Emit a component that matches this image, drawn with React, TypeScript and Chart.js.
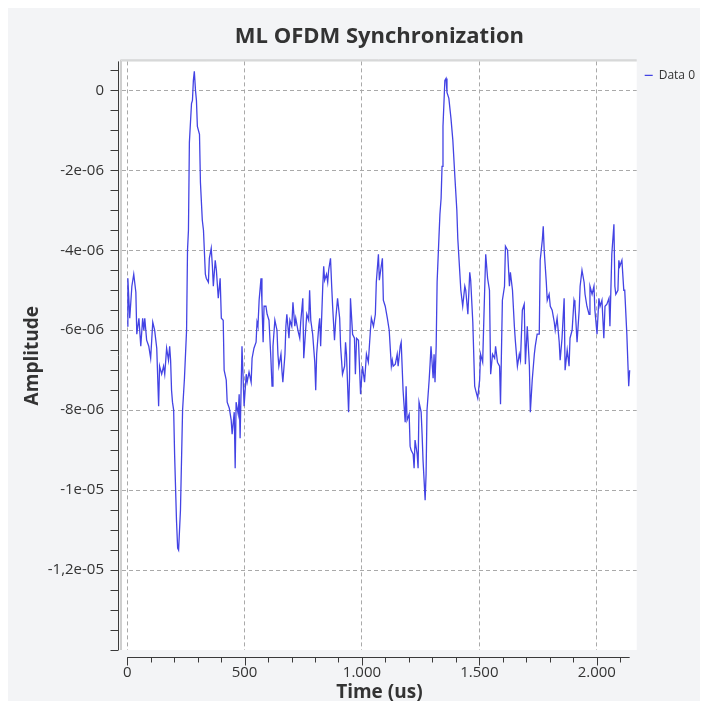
import React, { useEffect, useRef } from "react";
import { Chart, registerables } from "chart.js";

Chart.register(...registerables);

// Time axis (microseconds)
const timeUs = [
  0, 3, 11, 20, 28, 37, 41, 50, 58, 66, 71, 75, 83, 92, 100, 105, 109, 117, 126, 134,
  138, 147, 155, 160, 168, 176, 181, 185, 189, 193, 198, 202, 210, 215, 219, 227, 236, 244, 253, 257,
  261, 265, 274, 278, 282, 286, 291, 295, 299, 308, 312, 320, 325, 333, 337, 346, 350, 358, 363, 367,
  375, 380, 388, 396, 401, 409, 413, 422, 426, 435, 443, 447, 456, 460, 464, 473, 477, 481, 489, 498,
  507, 511, 519, 528, 532, 540, 549, 553, 557, 562, 570, 574, 579, 583, 591, 596, 604, 612, 617, 621,
  629, 638, 642, 646, 655, 659, 663, 672, 676, 680, 689, 693, 701, 706, 714, 718, 727, 735, 739, 748,
  752, 760, 765, 773, 777, 782, 790, 799, 803, 807, 816, 820, 824, 833, 837, 841, 849, 854, 858, 866,
  871, 875, 883, 888, 896, 905, 909, 917, 926, 930, 934, 943, 947, 951, 960, 968, 972, 977, 985, 994,
  1002, 1011, 1019, 1027, 1036, 1040, 1049, 1057, 1061, 1070, 1074, 1082, 1087, 1091, 1099, 1108, 1116, 1125, 1129, 1133,
  1142, 1150, 1154, 1163, 1167, 1171, 1175, 1184, 1188, 1192, 1201, 1205, 1209, 1218, 1222, 1226, 1235, 1239, 1243, 1252,
  1256, 1260, 1269, 1273, 1277, 1286, 1290, 1294, 1303, 1307, 1311, 1316, 1320, 1328, 1332, 1337, 1341, 1345, 1353, 1358,
  1362, 1370, 1379, 1387, 1396, 1404, 1408, 1413, 1421, 1429, 1438, 1442, 1451, 1459, 1463, 1472, 1480, 1484, 1493, 1501,
  1505, 1514, 1522, 1527, 1535, 1543, 1548, 1556, 1565, 1569, 1577, 1586, 1590, 1598, 1607, 1611, 1620, 1628, 1632, 1641,
  1649, 1653, 1662, 1670, 1675, 1683, 1691, 1696, 1704, 1713, 1717, 1725, 1734, 1738, 1746, 1755, 1759, 1768, 1772, 1776,
  1785, 1789, 1797, 1802, 1810, 1819, 1823, 1831, 1840, 1844, 1852, 1861, 1865, 1874, 1882, 1886, 1895, 1903, 1907, 1916,
  1925, 1929, 1937, 1946, 1950, 1958, 1967, 1971, 1980, 1988, 1992, 2001, 2009, 2014, 2022, 2030, 2035, 2043, 2052, 2056,
  2064, 2073, 2077, 2081, 2090, 2094, 2098, 2107, 2115, 2119, 2128, 2136, 2140,
];

// Amplitude, in units of 1e-6
const amplitudeE6 = [
  -5.9, -4.7, -5.7, -4.9, -4.6, -5.05, -6.1, -5.7, -6.4, -5.7, -6.0, -5.7, -6.25, -6.4, -6.7, -6.2, -5.8, -6.0, -6.45, -7.9,
  -6.9, -7.1, -6.9, -7.1, -6.45, -6.75, -6.4, -6.75, -7.5, -7.8, -8.0, -9.1, -10.75, -11.45, -11.5, -10.5, -8.0, -7.2, -6.0, -4.0,
  -3.5, -1.3, -0.33, -0.25, 0.25, 0.48, 0.0, -0.25, -0.9, -1.1, -2.3, -3.25, -3.5, -4.6, -4.7, -4.8, -4.2, -3.95, -4.4, -4.9,
  -4.25, -4.5, -5.2, -4.7, -5.7, -5.75, -7.0, -7.25, -7.8, -7.95, -8.25, -8.6, -8.05, -9.45, -7.8, -8.1, -7.6, -8.7, -6.4, -7.9,
  -7.1, -7.3, -7.05, -7.3, -6.7, -6.45, -6.3, -5.8, -5.9, -5.25, -4.7, -5.3, -6.3, -5.4, -5.4, -5.6, -5.75, -6.7, -7.4, -6.4,
  -5.75, -6.0, -6.6, -6.9, -6.6, -7.0, -7.3, -6.6, -5.9, -5.6, -6.2, -5.75, -5.9, -5.3, -5.9, -5.7, -6.0, -6.2, -5.8, -5.2,
  -6.7, -6.0, -5.6, -5.75, -5.0, -5.75, -6.1, -6.8, -7.5, -6.6, -5.9, -5.7, -6.4, -4.9, -4.4, -4.75, -4.6, -4.8, -4.5, -4.2,
  -4.9, -5.4, -6.25, -5.75, -5.2, -5.7, -6.4, -7.1, -6.9, -6.3, -6.6, -8.05, -7.2, -5.2, -6.1, -6.2, -7.1, -6.2, -6.25, -7.6,
  -6.9, -7.3, -6.6, -6.8, -6.0, -5.7, -5.9, -5.6, -4.8, -4.1, -4.75, -4.4, -4.2, -5.25, -5.4, -5.7, -6.0, -6.9, -6.75, -6.9,
  -6.85, -6.6, -6.9, -6.4, -6.3, -6.9, -7.5, -8.3, -7.4, -8.25, -8.1, -8.9, -9.0, -9.1, -9.45, -8.75, -9.1, -9.45, -7.8, -8.05,
  -8.6, -9.25, -10.25, -9.6, -8.0, -7.25, -6.85, -6.4, -7.2, -6.6, -7.3, -6.4, -4.8, -3.65, -3.1, -2.7, -1.9, -0.9, 0.25, 0.3,
  -0.05, -0.2, -0.7, -1.25, -2.2, -3.0, -3.7, -4.2, -5.0, -5.4, -4.9, -5.0, -5.6, -4.55, -4.75, -5.8, -7.4, -7.5, -7.7, -7.25,
  -6.6, -6.8, -5.1, -4.1, -4.7, -5.0, -7.1, -6.6, -6.7, -6.4, -6.8, -6.9, -7.85, -5.25, -4.9, -3.9, -4.0, -4.9, -4.55, -5.0,
  -5.9, -6.25, -6.9, -6.6, -6.75, -5.5, -5.35, -6.85, -5.9, -6.9, -8.05, -7.25, -6.6, -6.4, -6.1, -6.1, -4.25, -3.75, -3.4, -4.0,
  -4.8, -5.25, -5.1, -5.4, -5.5, -5.8, -6.0, -5.7, -6.3, -6.75, -6.2, -5.2, -7.0, -6.5, -6.9, -6.2, -6.0, -5.25, -5.35, -6.3,
  -5.5, -4.9, -4.5, -4.8, -5.1, -5.4, -5.6, -4.9, -5.1, -4.9, -5.5, -6.1, -5.2, -5.4, -5.25, -6.2, -5.4, -5.35, -5.2, -5.9,
  -4.1, -3.35, -4.9, -5.1, -5.0, -4.25, -4.4, -4.25, -5.0, -5.0, -6.1, -7.4, -7.0,
];

const xTickValues = [0, 500, 1000, 1500, 2000];
const xTickLabels = ["0", "500", "1.000", "1.500", "2.000"];
const yTickValues = [0, -2e-6, -4e-6, -6e-6, -8e-6, -1e-5, -1.2e-5];
const yTickLabels = ["0", "-2e-06", "-4e-06", "-6e-06", "-8e-06", "-1e-05", "-1,2e-05"];

const X_MIN = -22;
const X_MAX = 2170;
const Y_MIN = -1.4e-5;
const Y_MAX = 7.25e-7;
const X_MINOR = 100;
const Y_MINOR = 5e-7;

const FONT = "'Open Sans', 'Noto Sans', sans-serif";
const TEXT = "#333333";
const LINE_BLUE = "#4343e4";

const axesPlugin = {
  id: "plotFrameAxes",
  beforeDraw(chart: any) {
    const { ctx, chartArea: a } = chart;
    ctx.save();
    ctx.fillStyle = "#ffffff";
    ctx.fillRect(a.left, a.top, a.right - a.left, a.bottom - a.top);
    ctx.restore();
  },
  afterDraw(chart: any) {
    const { ctx, chartArea: a } = chart;
    const xs = chart.scales.x;
    const ys = chart.scales.y;
    ctx.save();
    ctx.strokeStyle = "#cfcfcf";
    ctx.lineWidth = 1;
    ctx.beginPath();
    ctx.moveTo(a.left - 0.5, a.bottom);
    ctx.lineTo(a.left - 0.5, a.top - 0.5);
    ctx.lineTo(a.right, a.top - 0.5);
    ctx.moveTo(a.left - 1.5, a.bottom);
    ctx.lineTo(a.left - 1.5, a.top - 1.5);
    ctx.lineTo(a.right, a.top - 1.5);
    ctx.stroke();

    ctx.strokeStyle = "#3a3a3a";
    ctx.lineWidth = 1;
    const ax = Math.round(a.left - 4) + 0.5;
    ctx.beginPath();
    ctx.moveTo(ax, a.top);
    ctx.lineTo(ax, a.bottom);
    const kMin = Math.ceil(Y_MIN / Y_MINOR - 1e-6);
    const kMax = Math.floor(Y_MAX / Y_MINOR + 1e-6);
    for (let k = kMin; k <= kMax; k++) {
      const py = Math.round(ys.getPixelForValue(k * Y_MINOR)) + 0.5;
      ctx.moveTo(ax - 8, py);
      ctx.lineTo(ax, py);
    }
    const ay = Math.round(a.bottom + 7) + 0.5;
    const xLast = timeUs[timeUs.length - 1];
    ctx.moveTo(xs.getPixelForValue(0), ay);
    ctx.lineTo(xs.getPixelForValue(xLast), ay);
    for (let t = 0; t <= xLast; t += X_MINOR) {
      const px = Math.round(xs.getPixelForValue(t)) + 0.5;
      const major = t % 500 === 0;
      ctx.moveTo(px, ay);
      ctx.lineTo(px, ay + (major ? 8 : 5));
    }
    ctx.stroke();
    ctx.restore();
  },
};

export default function App() {
  const canvasRef = useRef<HTMLCanvasElement | null>(null);

  useEffect(() => {
    if (!canvasRef.current) return;
    const points = timeUs.map((t, i) => ({ x: t, y: amplitudeE6[i] * 1e-6 }));
    const chart = new Chart(canvasRef.current, {
      type: "line",
      data: {
        datasets: [
          {
            label: "Data 0",
            data: points,
            borderColor: LINE_BLUE,
            backgroundColor: LINE_BLUE,
            borderWidth: 1.3,
            pointRadius: 0,
            tension: 0,
            fill: false,
            pointStyle: "line",
          },
        ],
      },
      options: {
        animation: false,
        responsive: true,
        maintainAspectRatio: false,
        layout: { padding: { left: 0, top: 0, bottom: 0, right: -5 } },
        events: [],
        plugins: {
          title: {
            display: true,
            text: "ML OFDM Synchronization",
            color: TEXT,
            font: { family: FONT, size: 22, weight: "bold" },
            padding: { top: 16, bottom: 11 },
            fullSize: false,
          },
          legend: {
            display: true,
            position: "right",
            align: "start",
            fullSize: false,
            labels: {
              usePointStyle: true,
              pointStyle: "line",
              pointStyleWidth: 8,
              boxHeight: 8,
              color: TEXT,
              font: { family: FONT, size: 12 },
              padding: 8,
            },
          },
          tooltip: { enabled: false },
        },
        scales: {
          x: {
            type: "linear",
            min: X_MIN,
            max: X_MAX,
            afterBuildTicks: (s: any) => {
              s.ticks = xTickValues.map((v) => ({ value: v }));
            },
            afterFit: (s: any) => {
              s.height = 51;
            },
            ticks: {
              callback: (_v: any, i: number) => xTickLabels[i],
              color: TEXT,
              font: { family: FONT, size: 15 },
              padding: 0,
              maxRotation: 0,
              autoSkip: false,
            },
            grid: {
              color: "#a9a9a9",
              lineWidth: 1,
              drawTicks: true,
              tickLength: 14,
              tickColor: "rgba(0,0,0,0)",
            },
            border: { display: false, dash: [4, 3] },
            title: {
              display: true,
              text: "Time (us)",
              color: TEXT,
              font: { family: FONT, size: 19, weight: "bold" },
              padding: { top: 0, bottom: -3.4 },
            },
          },
          y: {
            type: "linear",
            min: Y_MIN,
            max: Y_MAX,
            afterBuildTicks: (s: any) => {
              s.ticks = yTickValues.map((v) => ({ value: v }));
            },
            afterFit: (s: any) => {
              s.width = 114;
            },
            ticks: {
              callback: (_v: any, i: number) => yTickLabels[i],
              color: TEXT,
              font: { family: FONT, size: 15 },
              padding: 0,
              autoSkip: false,
            },
            grid: {
              color: "#a9a9a9",
              lineWidth: 1,
              drawTicks: true,
              tickLength: 18,
              tickColor: "rgba(0,0,0,0)",
            },
            border: { display: false, dash: [4, 3] },
            title: {
              display: true,
              text: "Amplitude",
              color: TEXT,
              font: { family: FONT, size: 19, weight: "bold" },
              padding: { top: 13.6, bottom: 0 },
            },
          },
        },
      },
      plugins: [axesPlugin],
    } as any);
    return () => chart.destroy();
  }, []);

  return (
    <div style={{ height: 693, background: "#f3f4f6", position: "relative" }}>
      <canvas ref={canvasRef} />
    </div>
  );
}
